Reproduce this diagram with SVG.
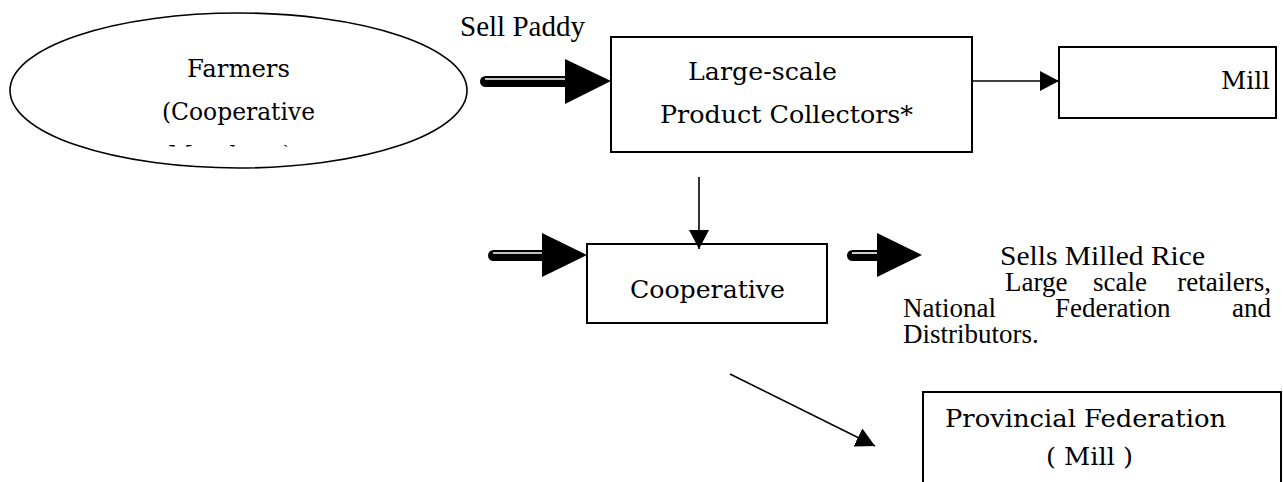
<svg xmlns="http://www.w3.org/2000/svg" width="1283" height="482" viewBox="0 0 1283 482">
<style>
  .shape { fill: #ffffff; stroke: #000000; stroke-width: 2; }
  .ell { fill: #ffffff; stroke: #000000; stroke-width: 1.6; }
  .cen { font-family: "DejaVu Serif", "Liberation Serif", serif; font-size: 24px; fill: #000000; }
  .tms { font-family: "Liberation Serif", "Times New Roman", serif; font-size: 28.5px; fill: #000000; }
  .tms2 { font-family: "Liberation Serif", "Times New Roman", serif; font-size: 27px; fill: #000000; }
  .thin { fill: none; stroke: #000000; stroke-width: 1.6; }
  .shaft { fill: none; stroke: #000000; stroke-width: 11; stroke-linecap: round; }
  .gap { fill: none; stroke: #ffffff; stroke-width: 1.6; }
  .head { fill: #000000; stroke: none; }
</style>
<defs>
  <marker id="tip" viewBox="0 0 19 20" refX="19" refY="10" markerWidth="19" markerHeight="20" markerUnits="userSpaceOnUse" orient="auto">
    <path d="M0,0 L19,10 L0,20 Z" fill="#000000"/>
  </marker>
  <clipPath id="clipMembers">
    <rect x="0" y="0" width="1283" height="146.5"/>
  </clipPath>
</defs>
<rect x="0" y="0" width="1283" height="482" fill="#ffffff"/>

<g id="farmers">
  <ellipse class="ell" cx="238.5" cy="90.5" rx="228.5" ry="77.5"/>
  <text class="cen" x="187" y="77" textLength="103" lengthAdjust="spacingAndGlyphs">Farmers</text>
  <text class="cen" x="162" y="120" textLength="153" lengthAdjust="spacingAndGlyphs">(Cooperative</text>
  <text class="cen" x="168" y="163" textLength="124" lengthAdjust="spacingAndGlyphs" clip-path="url(#clipMembers)">Members)</text>
</g>

<g id="sell-paddy-label">
  <text class="tms" x="460" y="36" textLength="125" lengthAdjust="spacingAndGlyphs">Sell Paddy</text>
</g>

<g id="collectors">
  <rect class="shape" x="611" y="37" width="361" height="115"/>
  <text class="cen" x="688" y="80" textLength="149" lengthAdjust="spacingAndGlyphs">Large-scale</text>
  <text class="cen" x="660" y="123" textLength="253" lengthAdjust="spacingAndGlyphs">Product Collectors*</text>
</g>

<g id="mill">
  <rect class="shape" x="1059" y="47" width="217" height="71"/>
  <text class="cen" x="1221" y="89" textLength="49" lengthAdjust="spacingAndGlyphs">Mill</text>
</g>

<g id="cooperative">
  <rect class="shape" x="587" y="244" width="240" height="79"/>
  <text class="cen" x="630" y="298" textLength="155" lengthAdjust="spacingAndGlyphs">Cooperative</text>
</g>

<g id="sells-milled-rice">
  <text class="tms2" x="1000" y="265" textLength="205" lengthAdjust="spacingAndGlyphs">Sells Milled Rice</text>
  <text class="tms2" y="291"><tspan x="1005">Large</tspan><tspan x="1093">scale</tspan><tspan x="1271" text-anchor="end">retailers,</tspan></text>
  <text class="tms2" y="317"><tspan x="903">National</tspan><tspan x="1055">Federation</tspan><tspan x="1271" text-anchor="end">and</tspan></text>
  <text class="tms2" x="903" y="343">Distributors.</text>
</g>

<g id="provincial-federation">
  <rect class="shape" x="923" y="392" width="358" height="100"/>
  <text class="cen" x="945" y="427" textLength="281" lengthAdjust="spacingAndGlyphs">Provincial Federation</text>
  <text class="cen" x="1046" y="465" textLength="87" lengthAdjust="spacingAndGlyphs">( Mill )</text>
</g>

<g id="connectors">
  <path class="shaft" d="M485.5,81.5 H567"/>
  <path class="gap" d="M485,79 H567"/>
  <polygon class="head" points="565,59 611,81 565,104"/>

  <path class="shaft" d="M493.5,255.5 H543"/>
  <path class="gap" d="M493,253 H543"/>
  <polygon class="head" points="542,233 587,255 542,277"/>

  <path class="shaft" d="M852.5,255.5 H878"/>
  <path class="gap" d="M852,253 H878"/>
  <polygon class="head" points="877,233 922,255 877,277"/>

  <path class="thin" d="M972,81 H1059" marker-end="url(#tip)"/>
  <path class="thin" d="M699,177 V249" marker-end="url(#tip)"/>
  <path class="thin" d="M730,374 L875,446" marker-end="url(#tip)"/>
</g>
</svg>
